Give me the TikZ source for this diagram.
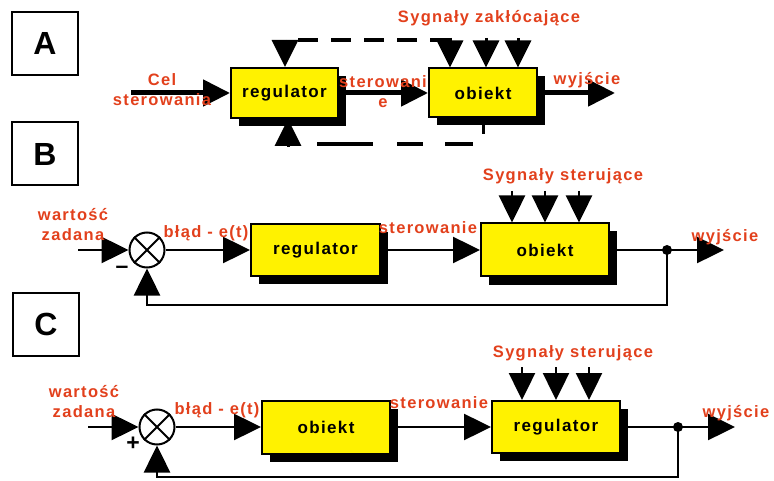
\documentclass[tikz,border=0pt]{standalone}
\usepackage{fontspec}
\setmainfont{Liberation Sans}
\usepackage{xcolor}
\usetikzlibrary{arrows.meta,shadows}

\newfontfamily\blockfont[LetterSpace=8]{Liberation Sans Bold}
\definecolor{signalred}{RGB}{226,64,28}

\begin{document}
\begin{tikzpicture}[x=1pt,y=-1pt,
        big arrow/.style={-{Triangle[length=27pt,width=26pt]}},
        block/.style={rectangle,draw=black,line width=2pt,fill=yellow,
            font=\blockfont\fontsize{17}{18}\selectfont,
            drop shadow={shadow xshift=8pt,shadow yshift=-8pt,fill=black,opacity=1}},
        tag node/.style={rectangle,draw=black,line width=2pt,minimum width=66pt,
            minimum height=63pt,font=\bfseries\fontsize{32}{32}\selectfont},
        red text/.style={text=signalred,inner sep=0pt,align=center,
            font=\blockfont\fontsize{16.5}{20}\selectfont},
        sign text/.style={inner sep=0pt,font=\bfseries\fontsize{23}{23}\selectfont},
        sum node/.style={circle,draw=black,line width=2pt,fill=white,
            minimum size=35pt,inner sep=0pt},
        tap dot/.style={circle,fill=black,minimum size=10pt,inner sep=0pt}]

    \useasboundingbox (0,0) rectangle (774,481);

    % panel letters
    \node[tag node] (tagA) at (45,43.5) {A};
    \node[tag node] (tagB) at (45,154) {B};
    \node[tag node] (tagC) at (46,324) {C};

    % ---- A: open loop
    \coordinate (inA) at (131,93);
    \coordinate (outA) at (615,93);
    \coordinate (topA) at (285,40);
    \coordinate (botA) at (288,147);
    \coordinate (botendA) at (483,144);
    \foreach \x in {450,486,518}
        \coordinate (dA\x) at (\x,38);

    \node[block, minimum width=107pt, minimum height=50pt] (regA) at (284.5,93) {regulator};
    \node[block, minimum width=108pt, minimum height=49pt] (objA) at (483,93) {obiekt};

    \draw[big arrow, line width=5pt] (inA) -- (regA);
    \draw[big arrow, line width=5pt] (regA) -- (objA);
    \draw[big arrow, line width=5pt] (objA) -- (outA);
    \foreach \x in {450,486,518}
        \draw[big arrow, line width=3pt] (dA\x) -- (dA\x |- objA.north);
    \draw[line width=3.5pt, dash pattern=on 20pt off 13pt, dash phase=20pt]
        (topA) -- (dA450 |- topA);
    \draw[big arrow, line width=3pt] (topA) -- (topA |- regA.north);
    \draw[big arrow, line width=3pt] (botA) -- (botA |- regA.south);
    \draw[line width=3.5pt, dash pattern=on 0pt off 29pt on 56pt off 24pt on 26pt off 22pt on 28pt off 10pt]
        (botA |- botendA) -- (botendA);
    \draw[line width=3pt] (objA.south) -- ++(0,16);

    % ---- B: closed loop
    \coordinate (inB) at (78,250);
    \coordinate (outB) at (724,250);
    \coordinate (fbB) at (147,305);
    \foreach \x in {512,545,579}
        \coordinate (dB\x) at (\x,191);

    \node[sum node] (sumB) at (147,250) {};
    \draw[line width=2pt] (sumB.north west) -- (sumB.south east)
        (sumB.north east) -- (sumB.south west);
    \node[block, minimum width=129pt, minimum height=52pt] (regB) at (315.5,250) {regulator};
    \node[block, minimum width=128pt, minimum height=53pt] (objB) at (545,250) {obiekt};
    \node[tap dot] (tapB) at (667,250) {};

    \draw[big arrow, line width=2.5pt] (inB) -- (sumB);
    \draw[big arrow, line width=2.5pt] (sumB) -- (regB);
    \draw[big arrow, line width=2.5pt] (regB) -- (objB);
    \draw[big arrow, line width=2.5pt] (objB) -- (outB);
    \draw[big arrow, line width=2.5pt] (tapB.center) |- (fbB) -- (sumB);
    \foreach \x in {512,545,579}
        \draw[big arrow, line width=2.5pt] (dB\x) -- (dB\x |- objB.north);

    % ---- C: closed loop, blocks swapped
    \coordinate (inC) at (88,427);
    \coordinate (outC) at (735,427);
    \coordinate (fbC) at (157,477);
    \foreach \x in {522,556,589}
        \coordinate (dC\x) at (\x,367);

    \node[sum node] (sumC) at (157,427) {};
    \draw[line width=2pt] (sumC.north west) -- (sumC.south east)
        (sumC.north east) -- (sumC.south west);
    \node[block, minimum width=128pt, minimum height=53pt] (objC) at (326,427) {obiekt};
    \node[block, minimum width=128pt, minimum height=52pt] (regC) at (556,427) {regulator};
    \node[tap dot] (tapC) at (678,427) {};

    \draw[big arrow, line width=2.5pt] (inC) -- (sumC);
    \draw[big arrow, line width=2.5pt] (sumC) -- (objC);
    \draw[big arrow, line width=2.5pt] (objC) -- (regC);
    \draw[big arrow, line width=2.5pt] (regC) -- (outC);
    \draw[big arrow, line width=2.5pt] (tapC.center) |- (fbC) -- (sumC);
    \foreach \x in {522,556,589}
        \draw[big arrow, line width=2.5pt] (dC\x) -- (dC\x |- regC.north);

    % labels on top
    \node[red text] (celA) at (162,90) {Cel\\sterowania};
    \node[red text] (sterA) at (383,92) {sterowani\\e};
    \node[red text] (outlblA) at (587,80) {wyjście};
    \node[red text] (sygA) at (489,18) {Sygnały zakłócające};

    \node[red text] (wzB) at (73,225) {wartość\\zadana};
    \node[sign text] (minusB) at (122,270) {--};
    \node[red text] (errB) at (206,233) {błąd - e(t)};
    \node[red text] (sterB) at (428,228) {sterowanie};
    \node[red text] (sygB) at (563,176) {Sygnały sterujące};
    \node[red text] (outlblB) at (725,237) {wyjście};

    \node[red text] (wzC) at (84,402) {wartość\\zadana};
    \node[sign text] (plusC) at (133,444) {+};
    \node[red text] (errC) at (217,410) {błąd - e(t)};
    \node[red text] (sterC) at (439,403) {sterowanie};
    \node[red text] (sygC) at (573,353) {Sygnały sterujące};
    \node[red text] (outlblC) at (736,413) {wyjście};

\end{tikzpicture}
\end{document}
